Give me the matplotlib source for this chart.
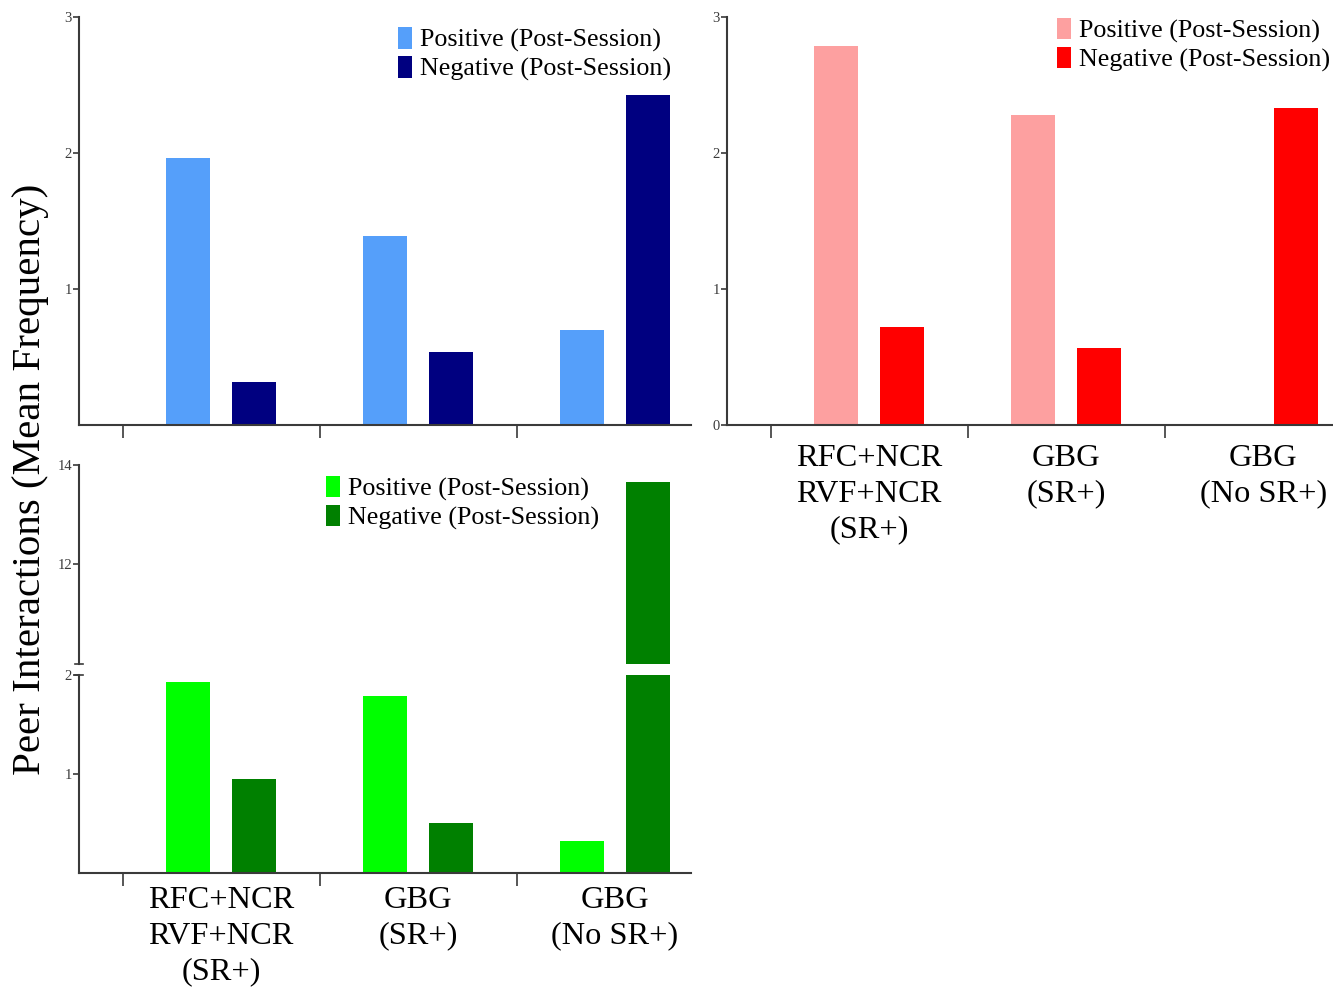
import numpy as np
import matplotlib.pyplot as plt

plt.switch_backend('Agg')
plt.rcParams['font.family'] = ['Liberation Serif', 'DejaVu Serif']

categories = ['RFC+NCR\nRVF+NCR\n(SR+)', 'GBG\n(SR+)', 'GBG\n(No SR+)']
series_labels = ['Positive (Post-Session)', 'Negative (Post-Session)']

blue_pos = [1.96, 1.39, 0.70]
blue_neg = [0.32, 0.54, 2.43]

red_pos = [2.79, 2.28, 0.0]
red_neg = [0.72, 0.57, 2.33]

green_pos = [1.93, 1.79, 0.32]
green_neg = [0.95, 0.51, 13.66]

spine_color = '#3a3a3a'
x = np.arange(len(categories))
offset = 0.1675
bar_w = 0.223


def style_axis(ax, yticks, show_bottom=True):
    for side in ['top', 'right']:
        ax.spines[side].set_visible(False)
    for side in ['left', 'bottom']:
        ax.spines[side].set_color(spine_color)
        ax.spines[side].set_linewidth(1.5)
    ax.set_yticks(yticks)
    ax.tick_params(axis='y', direction='out', length=4, width=1.2,
                   colors=spine_color, labelsize=10.5, pad=1)
    if show_bottom:
        ax.set_xticks(x - 0.5, minor=False)
        ax.set_xticklabels([])
        ax.tick_params(axis='x', direction='out', length=9, width=1.2,
                       colors=spine_color)
    else:
        ax.spines['bottom'].set_visible(False)
        ax.set_xticks([])


def draw_bars(ax, pos, neg, c_pos, c_neg):
    b1 = ax.bar(x - offset, pos, bar_w, color=c_pos, label=series_labels[0])
    b2 = ax.bar(x + offset, neg, bar_w, color=c_neg, label=series_labels[1])
    return b1, b2


def add_legend(ax, handles, anchor):
    ax.legend(handles=handles, labels=series_labels, loc='upper left',
              bbox_to_anchor=anchor, frameon=False, fontsize=18.7,
              borderpad=0, borderaxespad=0, handlelength=0.55,
              handleheight=0.9, handletextpad=0.3, labelspacing=0.14)


def add_category_labels(ax, gap_px):
    for xi, lab in zip(x, categories):
        ax.annotate(lab, xy=(xi, 0), xycoords=ax.get_xaxis_transform(),
                    xytext=(0, -gap_px * 0.72), textcoords='offset points',
                    ha='center', va='top', fontsize=23.3, linespacing=1.3)


fig = plt.figure(figsize=(13.33, 9.88), dpi=100)

# top left panel
ax1 = fig.add_axes([0.0593, 0.5698, 0.4591, 0.4130])
h = draw_bars(ax1, blue_pos, blue_neg, '#559ffa', '#000080')
ax1.set_ylim(0, 3)
ax1.set_xlim(-0.721, 2.386)
style_axis(ax1, [1, 2, 3])
add_legend(ax1, h, (0.521, 0.975))

# top right panel
ax2 = fig.add_axes([0.5454, 0.5698, 0.4546, 0.4130])
h = draw_bars(ax2, red_pos, red_neg, '#fda0a0', '#ff0000')
ax2.set_ylim(0, 3)
ax2.set_xlim(-0.721, 2.355)
style_axis(ax2, [0, 1, 2, 3])
add_legend(ax2, h, (0.5446, 0.998))
add_category_labels(ax2, 19)

# bottom left panel, broken y axis
ax_hi = fig.add_axes([0.0593, 0.3279, 0.4591, 0.2015])
ax_lo = fig.add_axes([0.0593, 0.1164, 0.4591, 0.2004])
for ax in (ax_hi, ax_lo):
    h = draw_bars(ax, green_pos, green_neg, '#00ff00', '#008000')
    ax.set_xlim(-0.721, 2.386)
ax_hi.set_ylim(10, 14)
ax_lo.set_ylim(0, 2)
style_axis(ax_hi, [12, 14], show_bottom=False)
style_axis(ax_lo, [1, 2])
ax_lo.spines['left'].set_bounds(0, 2)
add_legend(ax_hi, h, (0.4036, 0.945))
add_category_labels(ax_lo, 13)

# break marks on the y axis
ax_hi.plot([-0.007, 0.007], [0, 0], transform=ax_hi.transAxes,
           color=spine_color, lw=1.2, clip_on=False)
ax_lo.plot([-0.007, 0.007], [1, 1], transform=ax_lo.transAxes,
           color=spine_color, lw=1.2, clip_on=False)

fig.text(0.023, 0.515, 'Peer Interactions (Mean Frequency)', rotation=90,
         ha='center', va='center', fontsize=29.5)

fig.savefig('out.png', dpi=100)
